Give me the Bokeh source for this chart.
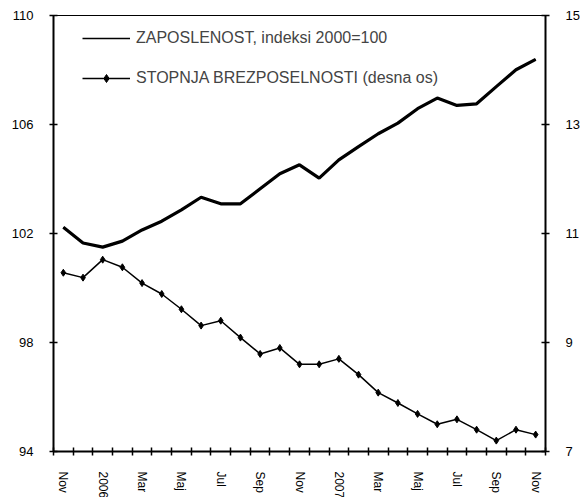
from bokeh.plotting import figure
from bokeh.models import Range1d, LinearAxis, FixedTicker, Legend, LegendItem
from bokeh.embed import file_html
from bokeh.resources import INLINE

# ---- data ----
months = ["Nov", "Dec", "Jan", "Feb", "Mar", "Apr", "Maj", "Jun", "Jul", "Avg", "Sep", "Okt",
          "Nov", "Dec", "Jan", "Feb", "Mar", "Apr", "Maj", "Jun", "Jul", "Avg", "Sep", "Okt", "Nov"]
tick_labels = ["Nov", "2006", "Mar", "Maj", "Jul", "Sep", "Nov", "2007", "Mar", "Maj", "Jul", "Sep", "Nov"]
employment = [102.23, 101.65, 101.50, 101.72, 102.13, 102.45, 102.87, 103.33, 103.09, 103.09,
              103.64, 104.19, 104.52, 104.03, 104.70, 105.19, 105.66, 106.05, 106.58, 106.97,
              106.70, 106.76, 107.39, 108.01, 108.39]
unemployment = [10.28, 10.19, 10.52, 10.38, 10.09, 9.89, 9.61, 9.31, 9.40, 9.09,
                8.79, 8.90, 8.60, 8.60, 8.70, 8.41, 8.08, 7.89, 7.69, 7.50,
                7.59, 7.40, 7.20, 7.40, 7.31]
left_ticks = [94, 98, 102, 106, 110]
right_ticks = [7, 9, 11, 13, 15]
name_emp = "ZAPOSLENOST, indeksi 2000=100"
name_unemp = "STOPNJA BREZPOSELNOSTI (desna os)"

n = len(months)
x = list(range(n))

FONT = "Liberation Sans"

p = figure(frame_width=492, frame_height=436,
           x_range=Range1d(-0.5, n - 0.5), y_range=Range1d(94, 110),
           output_backend="svg", toolbar_location=None,
           min_border_left=53, min_border_right=36, min_border_top=15, min_border_bottom=46)
p.extra_y_ranges = {"u": Range1d(7, 15)}
p.xgrid.visible = False
p.ygrid.visible = False
p.outline_line_color = "black"
p.outline_line_width = 1
p.background_fill_color = "white"
p.border_fill_color = "white"

r_emp = p.line(x, employment, line_color="black", line_width=3.2)
# thin line over the same path, used as the (thin) legend sample
r_emp_key = p.line(x, employment, line_color="black", line_width=1.5)
r_un_l = p.line(x, unemployment, line_color="black", line_width=1.5, y_range_name="u")
r_un_m = p.scatter(x, unemployment, marker="diamond", size=7, color="black", y_range_name="u")

# x axis
xa = p.xaxis[0]
xa.ticker = FixedTicker(ticks=x[::2], minor_ticks=[i - 0.5 for i in range(n + 1)])
xa.major_label_overrides = {i: lab for i, lab in zip(x[::2], tick_labels)}
xa.major_label_orientation = "vertical"
xa.major_tick_in = 0
xa.major_tick_out = 0
xa.minor_tick_in = 4
xa.minor_tick_out = 4
xa.minor_tick_line_width = 1.5
xa.minor_tick_line_color = "black"
xa.axis_line_width = 2
xa.axis_line_color = "black"
xa.major_label_standoff = 16
xa.major_label_text_font = FONT
xa.major_label_text_font_size = "12px"
xa.major_label_text_color = "black"

# left axis
ya = p.yaxis[0]
ya.ticker = FixedTicker(ticks=left_ticks)
ya.minor_tick_line_color = None
ya.major_tick_in = 4
ya.major_tick_out = 4
ya.major_tick_line_width = 1.5
ya.axis_line_width = 2
ya.major_label_standoff = 16
ya.major_label_text_font = FONT
ya.major_label_text_font_size = "13px"
ya.major_label_text_color = "black"

# right axis
ra = LinearAxis(y_range_name="u", ticker=FixedTicker(ticks=right_ticks))
ra.minor_tick_line_color = None
ra.major_tick_in = 4
ra.major_tick_out = 4
ra.major_tick_line_width = 1.5
ra.axis_line_width = 2
ra.major_label_standoff = 16
ra.major_label_text_font = FONT
ra.major_label_text_font_size = "13px"
ra.major_label_text_color = "black"
p.add_layout(ra, "right")

legend = Legend(items=[LegendItem(label=name_emp, renderers=[r_emp_key]),
                       LegendItem(label=name_unemp, renderers=[r_un_l, r_un_m])],
                location=(29, 363), padding=0, margin=0, spacing=20,
                glyph_width=48, glyph_height=20, label_height=20, label_standoff=6,
                label_text_font=FONT, label_text_font_size="16px",
                border_line_alpha=0, background_fill_alpha=0)
p.add_layout(legend)

open("out.html", "w").write(file_html(p, INLINE))
